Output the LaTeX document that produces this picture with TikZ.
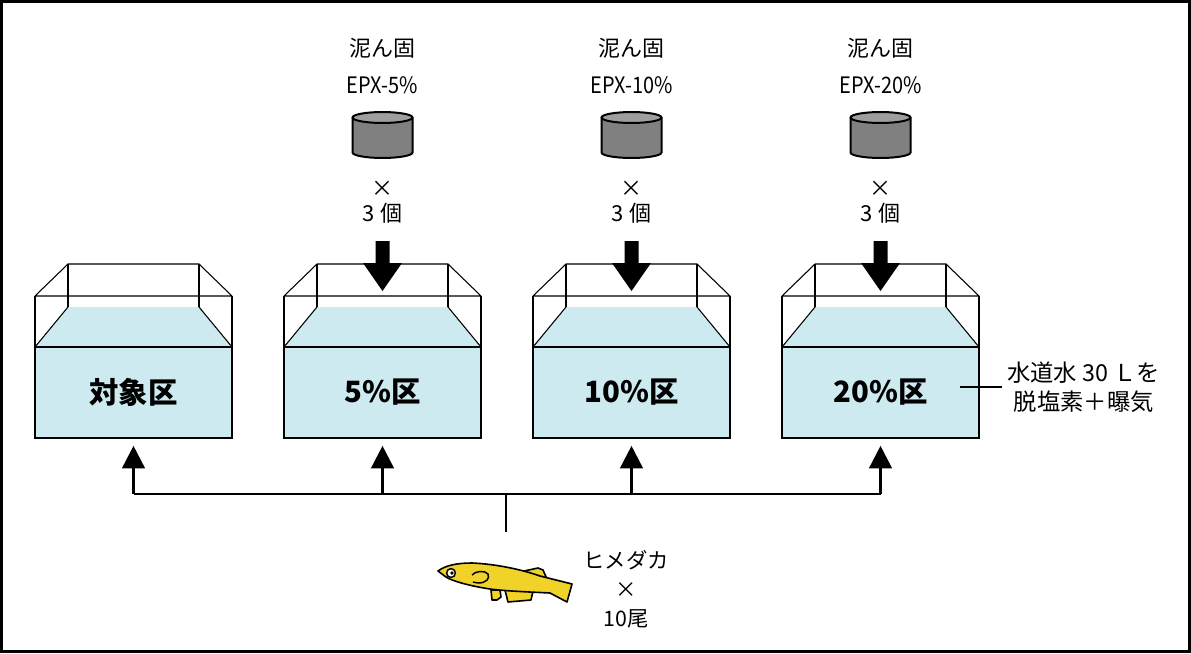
\documentclass[tikz,border=0pt]{standalone}
\usepackage{fontspec}
\setmainfont{Noto Sans CJK JP}
\usetikzlibrary{arrows.meta}

\definecolor{water}{RGB}{205,234,241}
\definecolor{fishbody}{RGB}{240,210,40}
\definecolor{solidside}{RGB}{128,128,128}
\definecolor{solidtop}{RGB}{158,158,158}

\tikzset{
  tankline/.style={line width=0.8pt, line join=round},
  waterbox/.style={draw=black, line width=1.2pt, fill=water, inner sep=0pt,
    minimum width=147.75pt, minimum height=68.25pt,
    font=\fontsize{22}{26}\selectfont\bfseries},
  uparrow/.style={line width=2pt, -{Triangle[length=17pt,width=17pt]}},
  busline/.style={line width=2pt},
  lbl/.style={inner sep=0pt, align=center},
  toptext/.style={lbl, font=\fontsize{16.5}{20}\selectfont},
  codetext/.style={lbl, font=\fontsize{17}{20}\selectfont},
  sidetext/.style={lbl, font=\fontsize{17.5}{21.75}\selectfont},
  fishtext/.style={lbl, font=\fontsize{16}{21.75}\selectfont},
  fishline/.style={line width=1.2pt, line join=round, draw=black},
}

\begin{document}
\begin{tikzpicture}[x=0.75pt, y=-0.75pt]
\useasboundingbox (0,0) rectangle (1191,653);
\fill[white] (0,0) rectangle (1191,653);
\draw[line width=2.25pt] (1.5,1.5) rectangle (1189.5,651.5);

% four tanks: open top, water surface and front water face
\foreach \i/\xo/\lab in {1/35/対象区, 2/284/5\%区, 3/533/10\%区, 4/782/20\%区}{
  \fill[water] ({\xo+33},307) -- ({\xo+164},307) -- ({\xo+197},347) -- (\xo,347) -- cycle;
  \draw[tankline] ({\xo+33},307) -- (\xo,347);
  \draw[tankline] ({\xo+164},307) -- ({\xo+197},347);
  \draw[tankline] (\xo,296) -- ({\xo+33},264) -- ({\xo+164},264) -- ({\xo+197},296) -- cycle;
  \draw[tankline] ({\xo+33},264) -- ({\xo+33},307);
  \draw[tankline] ({\xo+164},264) -- ({\xo+164},307);
  \draw[tankline] (\xo,296) -- (\xo,347);
  \draw[tankline] ({\xo+197},296) -- ({\xo+197},347);
  \node[waterbox] (t\i) at ({\xo+98.5},392.5) {\lab};
}

% hardened mud blocks added to the test tanks
\foreach \i/\cx/\pct in {2/382.5/5, 3/631.5/10, 4/880.5/20}{
  \node[toptext] (mud\i) at (\cx,48) {泥ん固};
  \node[codetext] (code\i) at (\cx,85) {\scalebox{0.88}[1]{EPX-\pct\%}};
  \fill[solidside] ({\cx-30},117.5) -- ({\cx-30},152.5)
     arc[start angle=180, end angle=360, x radius=22.5pt, y radius=4.1pt]
     -- ({\cx+30},117.5) -- cycle;
  \draw[line width=1.5pt] ({\cx-30},117.5) -- ({\cx-30},152.5)
     arc[start angle=180, end angle=360, x radius=22.5pt, y radius=4.1pt]
     -- ({\cx+30},117.5);
  \draw[line width=1.5pt, fill=solidtop] (\cx,117.5) ellipse[x radius=22.5pt, y radius=4.1pt];
  \node[toptext] (cnt\i) at (\cx,202.5) {×\\[-1pt]3 個};
  \fill[black] ({\cx-7},241) -- ({\cx+7},241) -- ({\cx+7},263) -- ({\cx+19.5},263)
     -- (\cx,291) -- ({\cx-19.5},263) -- ({\cx-7},263) -- cycle;
}

% water treatment note
\node[sidetext, anchor=west] (note) at (1007,387) {水道水 30 Ｌを\\脱塩素＋曝気};
\coordinate (noteend) at (960,387);
\draw[line width=1.2pt] (note.west) ++(-5,0) -- (noteend);

% fish distribution lines
\coordinate (hub) at (506,494);
\coordinate (fishtop) at (506,532);
\foreach \i/\cx in {1/133.5, 2/382.5, 3/631.5, 4/880.5}{
  \coordinate (bus\i) at (\cx,494);
  \draw[uparrow, shorten >=5.25pt] (bus\i) -- (t\i.south);
}
\draw[busline] (bus1) -- (bus4);
\draw[busline] (fishtop) -- (hub);

% medaka
\draw[fishline, fill=fishbody] (524,571) -- (538,568) -- (543,570) -- (547,579) -- (530,576) -- cycle;
\draw[fishline, fill=fishbody] (505,590) -- (533,591) -- (531,600) -- (508,602) -- cycle;
\draw[fishline, fill=fishbody] (491,590) -- (500,590) -- (501,597) -- (497,600) -- (492,600) -- cycle;
\draw[fishline, fill=fishbody] (438,571) .. controls (446,565) and (458,563) .. (472,563)
  .. controls (495,564) and (520,569) .. (540,576)
  -- (572,584) -- (567,602) -- (550,593)
  .. controls (530,592) and (505,591) .. (490,589)
  .. controls (470,586) and (452,581) .. (446,577) -- cycle;
\draw[line width=1.1pt, fill=white] (451,573) circle[radius=3.3pt];
\fill[black] (452,573) circle[radius=1.4pt];
\draw[line width=1.1pt] (472,575) .. controls (475,571) and (485,570) .. (488,574)
  .. controls (490,579) and (486,583) .. (478,583) -- (473,582);

\node[fishtext] (fishlbl) at (626,589) {ヒメダカ\\×\\10尾};
\end{tikzpicture}
\end{document}
